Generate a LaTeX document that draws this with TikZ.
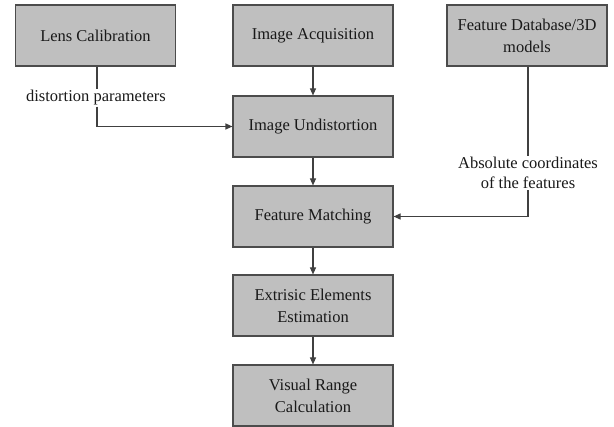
\documentclass[tikz,border=0pt]{standalone}
\usepackage{fontspec}
\setmainfont{Liberation Serif}
\usetikzlibrary{arrows.meta}
\begin{document}
\begin{tikzpicture}[x=1pt,y=-1pt,
  box/.style={draw=black!70,fill=black!25,line width=1.1pt,minimum width=160pt,minimum height=61pt,inner sep=0pt,align=center,font=\fontsize{16.5}{22}\selectfont,text=black!90},
  lab/.style={inner sep=1pt,align=center,font=\fontsize{16.5}{20}\selectfont,text=black!90},
  conn/.style={draw=black!75,line width=1.1pt},
  arr/.style={conn,-{Triangle[length=7pt,width=6pt]}}]
\useasboundingbox (0,0) rectangle (614,427);
\node[box] (lens) at (95.5,35.5) {Lens Calibration};
\node[box] (acq) at (313,35.5) {Image Acquisition};
\node[box] (db) at (527,35.5) {Feature Database/3D\\models};
\node[box] (und) at (313,126.5) {Image Undistortion};
\node[box] (match) at (313,216.5) {Feature Matching};
\node[box] (ext) at (313,305.5) {Extrisic Elements\\Estimation};
\node[box] (vis) at (313,395.5) {Visual Range\\Calculation};
\node[lab] (l1) at (96,98) {distortion parameters};
\node[lab] (l2) at (528,173) {Absolute coordinates\\of the features};
\draw[conn] (lens.south -| 97,0) -- (l1.north -| 97,0);
\draw[arr] (l1.south -| 97,0) |- (und.west);
\draw[conn] (db.south -| 528,0) -- (l2.north -| 528,0);
\draw[arr] (l2.south -| 528,0) |- (match.east);
\draw[arr] (acq) -- (und);
\draw[arr] (und) -- (match);
\draw[arr] (match) -- (ext);
\draw[arr] (ext) -- (vis);
\end{tikzpicture}
\end{document}
